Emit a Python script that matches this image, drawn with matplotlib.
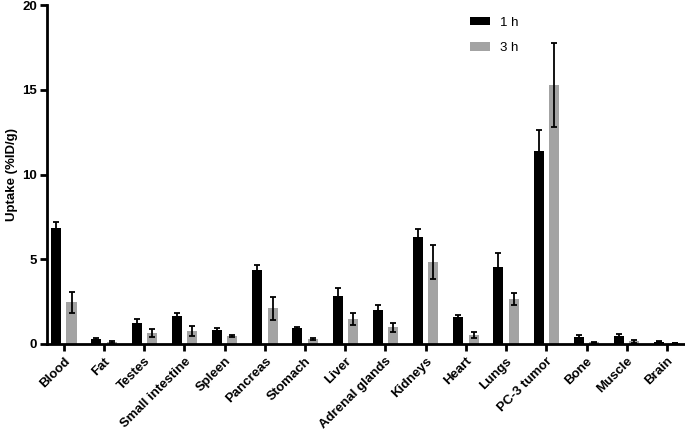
import matplotlib
matplotlib.use("Agg")
import matplotlib.pyplot as plt
import numpy as np

organs = ["Blood", "Fat", "Testes", "Small intestine", "Spleen", "Pancreas",
          "Stomach", "Liver", "Adrenal glands", "Kidneys", "Heart", "Lungs",
          "PC-3 tumor", "Bone", "Muscle", "Brain"]
uptake_1h = [6.85, 0.30, 1.24, 1.65, 0.83, 4.37, 0.93, 2.83, 2.03, 6.33, 1.58, 4.56, 11.4, 0.39, 0.47, 0.12]
err_1h = [0.35, 0.08, 0.25, 0.15, 0.12, 0.30, 0.07, 0.50, 0.30, 0.43, 0.15, 0.83, 1.25, 0.12, 0.10, 0.03]
uptake_3h = [2.45, 0.10, 0.65, 0.75, 0.47, 2.10, 0.28, 1.47, 0.98, 4.86, 0.53, 2.65, 15.26, 0.10, 0.15, 0.05]
err_3h = [0.63, 0.05, 0.22, 0.30, 0.08, 0.70, 0.07, 0.33, 0.27, 1.00, 0.18, 0.33, 2.48, 0.04, 0.07, 0.02]

plt.rcParams['font.family'] = ['Liberation Sans', 'DejaVu Sans']

fig = plt.figure(figsize=(6.85, 4.3), dpi=100)
ax = fig.add_axes([47/685, 86/430, 1 - 47/685, (344 - 5)/430])

x = np.arange(len(organs))
w = 0.25
off = 0.19
ekw = dict(ecolor='black', elinewidth=1.3, capsize=2.5, capthick=1.3)
ax.bar(x - off, uptake_1h, w, yerr=err_1h, color='black', label='1 h', error_kw=ekw, zorder=2)
ax.bar(x + off, uptake_3h, w, yerr=err_3h, color='#a3a3a3', label='3 h', error_kw=ekw, zorder=2)

ax.set_xlim(-0.42, 15.45)
ax.set_ylim(0, 20)
ax.set_yticks([0, 5, 10, 15, 20])
ax.set_xticks(x)
ax.set_xticklabels(organs, rotation=45, ha='right', rotation_mode='anchor',
                   fontsize=9.5, fontweight='bold')
for lab in ax.get_yticklabels():
    lab.set_fontweight('bold')
    lab.set_fontsize(9.5)
ax.set_ylabel('Uptake (%ID/g)', fontsize=9.5, fontweight='bold', labelpad=3)

for s in ['top', 'right']:
    ax.spines[s].set_visible(False)
for s in ['left', 'bottom']:
    ax.spines[s].set_linewidth(2)
ax.tick_params(axis='both', direction='out', width=2, length=5)
ax.tick_params(axis='y', pad=2)
ax.tick_params(axis='x', pad=3)

ax.legend(loc='upper left', bbox_to_anchor=(0.645, 1.0), frameon=False,
          fontsize=9.5, handlelength=1.5, handleheight=0.6, handletextpad=0.75,
          labelspacing=1.0)

fig.savefig('out.png', dpi=100)
